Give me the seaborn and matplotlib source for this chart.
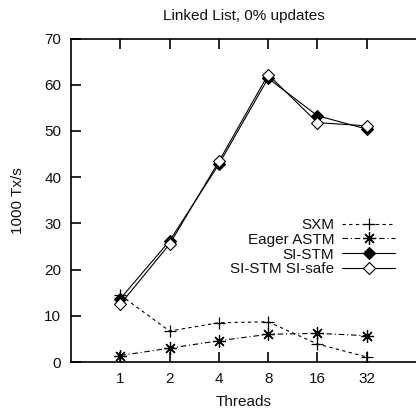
import matplotlib
matplotlib.use("Agg")
import matplotlib.pyplot as plt
import seaborn as sns
import pandas as pd

threads = ["1", "2", "4", "8", "16", "32"]
sxm = [14.5, 6.7, 8.5, 8.7, 3.9, 1.1]
eager_astm = [1.4, 3.0, 4.6, 6.0, 6.2, 5.7]
si_stm = [13.7, 26.2, 42.8, 61.4, 53.3, 50.4]
si_stm_safe = [12.5, 25.5, 43.4, 62.2, 51.8, 51.1]

series_names = ["SXM", "Eager ASTM", "SI-STM", "SI-STM SI-safe"]
series_vals = [sxm, eager_astm, si_stm, si_stm_safe]

sns.set_theme(style="white")
plt.rcParams["font.family"] = ["Liberation Sans", "DejaVu Sans"]

fig = plt.figure(figsize=(4.16, 4.08), dpi=100)
ax = fig.add_axes([0.1707, 0.1127, 0.8293, 0.7929])

styles = {
    "SXM": dict(marker="+", markersize=9, markeredgewidth=0.9, linestyle=(0, (3, 3)),
                color="black", mfc="black", mec="black"),
    "Eager ASTM": dict(marker=(8, 2, 0), markersize=9, markeredgewidth=0.9,
                       linestyle=(0, (5, 2.5, 1, 2.5)), color="black", mec="black"),
    "SI-STM": dict(marker="D", markersize=6, linestyle="-", color="black",
                   mfc="black", mec="black", markeredgewidth=0.8),
    "SI-STM SI-safe": dict(marker="D", markersize=6.5, linestyle="-", color="black",
                           mfc="white", mec="black", markeredgewidth=0.8),
}

pos = list(range(len(threads)))
for name, vals in zip(series_names, series_vals):
    df = pd.DataFrame({"pos": pos, "val": vals})
    sns.lineplot(data=df, x="pos", y="val", ax=ax, label=name, linewidth=0.8,
                 **styles[name])

FS = 11
ax.set_xlim(-1, 6)
ax.set_ylim(0, 70)
ax.set_xticks(pos)
ax.set_xticklabels(threads)
ax.set_yticks(range(0, 71, 10))
ax.set_xlabel("Threads", fontsize=FS, labelpad=7, color="#111111")
ax.set_ylabel("1000 Tx/s", fontsize=FS, labelpad=14, color="#111111")
ax.set_title("Linked List, 0% updates", fontsize=FS, pad=13, color="#111111")

for s in ["left", "bottom", "top"]:
    ax.spines[s].set_linewidth(1.2)
    ax.spines[s].set_color("black")
ax.spines["right"].set_visible(False)
ax.tick_params(axis="both", which="both", direction="in", length=7, width=1.2,
               color="black", labelsize=FS, labelcolor="#111111", pad=7)
ax.tick_params(axis="x", top=True, bottom=True)
ax.tick_params(axis="y", left=True, right=False)

leg = ax.legend(loc="upper right", bbox_to_anchor=(0.94, 0.445), frameon=False,
                markerfirst=False, fontsize=FS, handlelength=3.5,
                handletextpad=0.5, labelspacing=0.05, borderaxespad=0, borderpad=0)
for t in leg.get_texts():
    t.set_color("#111111")

fig.savefig("out.png", dpi=100)
